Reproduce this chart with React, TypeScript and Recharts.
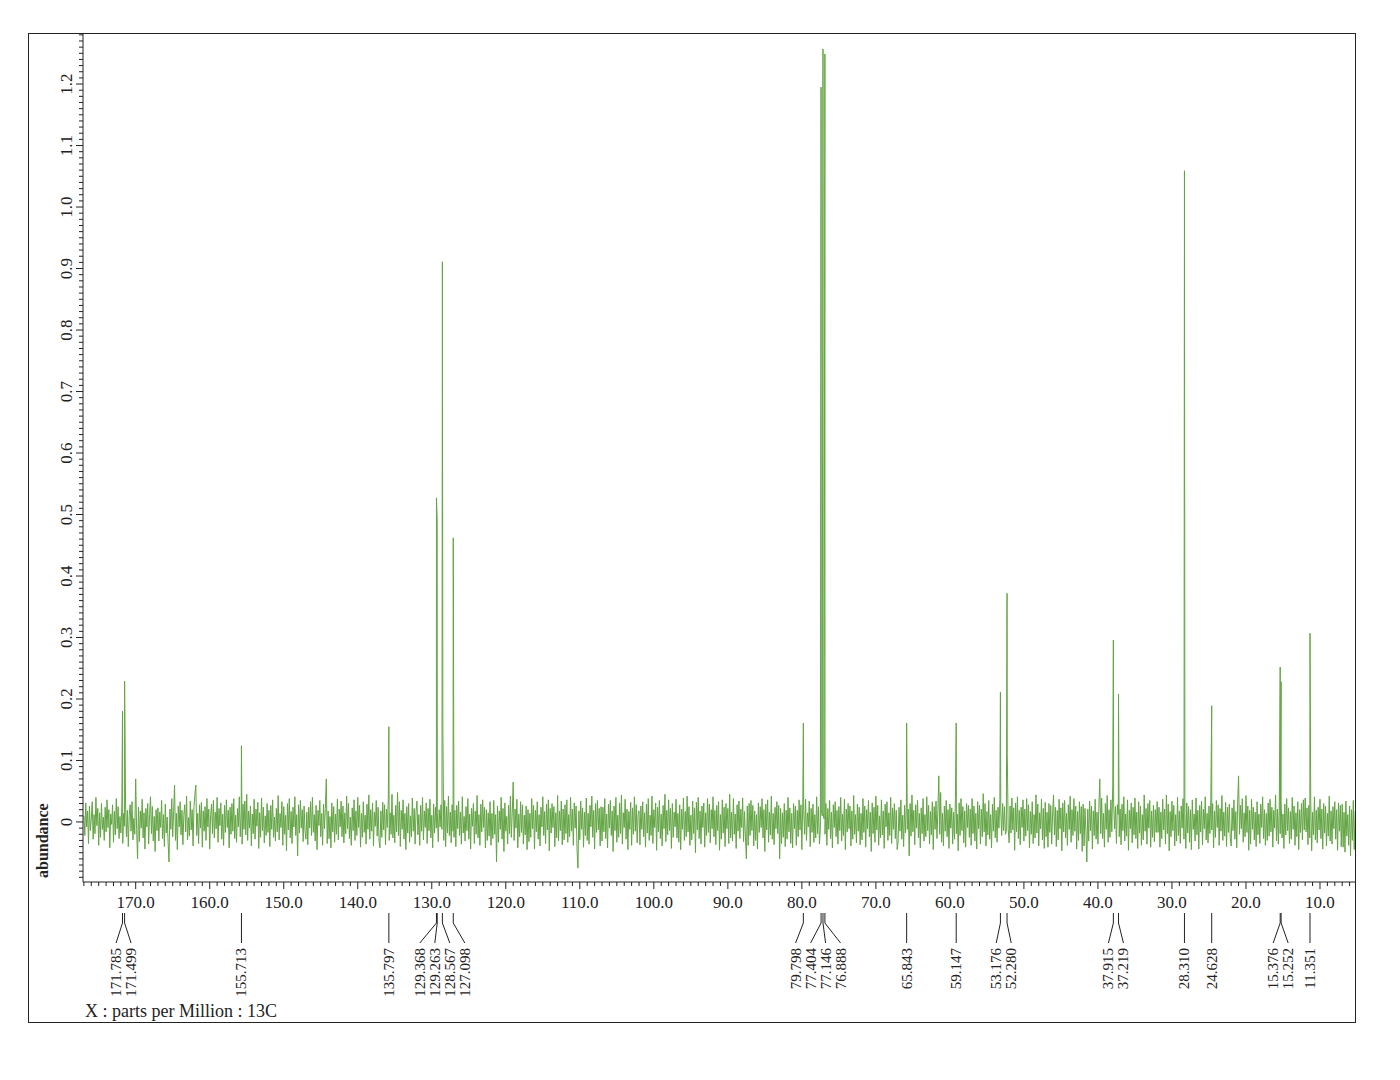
import React from 'react';
import { LineChart, Line, XAxis, YAxis } from 'recharts';

// 13C NMR spectrum, ppm axis runs right to left
const X_MIN = 5.27;
const X_MAX = 177.12;
const Y_MIN = -0.0976;
const Y_MAX = 1.283;

const X_LABELS = [170, 160, 150, 140, 130, 120, 110, 100, 90, 80, 70, 60, 50, 40, 30, 20, 10];
const Y_LABELS = [0, 0.1, 0.2, 0.3, 0.4, 0.5, 0.6, 0.7, 0.8, 0.9, 1.0, 1.1, 1.2];

// baseline noise in thousandths of abundance, one value every 0.125 ppm from 177.0 down (5 ppm per row)
const NOISE_START = 177.0;
const NOISE_STEP = 0.125;
const NOISE = [
    10, -22, 31, -8, 18, -35, 26, -14, 5, 33, -28, 12, -19, 40, -6, 22, -38, 15, -25, 30, -12, 8, -30, 24, -16, 36, -9, 20, -42, 13, -4, 28, -33, 17, -21, 38, -11, 25, -27, 9,
    -18, 26, -35, 14, -7, 31, -24, 19, -40, 11, 28, -15, 33, -29, 6, -20, 70, -12, -60, 24, -32, 18, -10, 37, -26, 15, -44, 22, -8, 30, -36, 12, 41, -19, 25, -31, 9, -48, 20, -14,
    23, -31, 16, -9, 35, -27, 12, -40, 29, -18, 8, -33, -65, 21, -12, 38, -24, 17, 60, -30, 14, -45, 26, -8, 33, -21, 19, -37, 11, 28, -16, 42, -29, 7, -23, 34, -13, 20, -39, 25,
    45, 60, -22, 14, -35, 28, -10, 32, -41, 18, -15, 25, -30, 38, -8, 21, -44, 12, 29, -19, 35, -26, 16, -11, 40, -33, 22, -6, 31, -28, 13, -38, 27, -17, 36, -9, 19, -42, 24, -20,
    30, -15, 38, -27, 11, -33, 22, -8, 41, -24, 16, -36, 29, -12, 34, -21, 45, -30, 18, -10, 26, -39, 13, -19, 37, -28, 21, -7, 32, -43, 15, -25, 39, -14, 24, -34, 10, -22, 30, -17,
    19, -40, 27, -12, 36, -25, 8, -31, 22, -16, 43, -29, 14, -9, 33, -38, 25, -20, 11, -47, 30, -13, 38, -26, 17, -35, 24, -8, 41, -22, 12, -55, 28, -18, 35, -10, 20, -32, 26, -15,
    -28, 16, -37, 24, -10, 33, -22, 40, -17, 12, -31, 27, -45, 19, -6, 35, -24, 14, -38, 29, -11, 22, 70, -35, 18, -27, 9, -42, 31, -16, 25, -33, 13, -20, 37, -29, 21, -8, 34, -24,
    26, -34, 15, -19, 42, -11, 30, -27, 8, -38, 23, -14, 36, -30, 18, -22, 40, -9, 27, -41, 14, -25, 33, -17, 11, -36, 29, -12, 44, -28, 20, -15, 31, -39, 16, -7, 35, -23, 24, -31,
    -42, 18, -25, 32, -13, 28, -37, 21, -9, 38, -30, 15, -20, 45, -26, 11, -34, 27, -16, 48, -22, 33, -40, 19, -12, 36, -28, 14, -45, 25, -18, 30, -33, 10, -24, 39, -15, 22, -36, 17,
    34, -21, 12, -38, 27, -15, 40, -29, 18, -9, 31, -35, 22, -14, 37, -26, 11, -42, 29, -18, 24, -10, 15, -32, 20, -8, 28, -12, 145, -30, 35, -40, 25, -18, 42, -22, 16, -34, 28, -15,
    -25, 19, -40, 27, -11, 34, -22, 16, -36, 41, -18, 9, -31, 25, -14, 38, -28, 13, -44, 22, -7, 30, -35, 18, -20, 43, -26, 12, -38, 29, -16, 36, -9, 24, -42, 20, -30, 15, -23, 33,
    -38, 14, -27, 35, -20, 12, -65, 26, -33, 18, -12, 40, -28, 22, -48, 31, -15, 9, -36, 27, -19, 42, -25, 16, 65, -30, 21, -10, 37, -42, 13, -24, 33, -17, 28, -36, 11, -21, 26, -45,
    20, -32, 14, -25, 38, -11, 27, -44, 19, -16, 33, -28, 12, -39, 24, -8, 41, -22, 17, -35, 29, -13, 36, -47, 22, -18, 30, -9, 25, -40, 15, -26, 43, -31, 18, -14, 34, -37, 21, -29,
    28, -19, 36, -33, 12, -24, 40, -15, 21, -38, 31, -10, 26, -45, -75, 18, -29, 34, -12, 23, -41, 16, -22, 39, -30, 14, -36, 27, -8, 42, -25, 19, -44, 30, -17, 35, -13, 22, -39, 25,
    -31, 24, -16, 38, -27, 13, -42, 29, -10, 35, -22, 18, -48, 26, -14, 40, -33, 11, -25, 31, -19, 44, -36, 15, -9, 37, -28, 21, -45, 17, -12, 32, -38, 23, -20, 41, -15, 28, -34, 12,
    18, -37, 26, -12, 33, -24, 15, -41, 29, -18, 38, -30, 11, -22, 42, -35, 20, -9, 31, -46, 24, -16, 35, -27, 13, -39, 27, -11, 45, -32, 19, -21, 36, -14, 22, -43, 30, -25, 16, -8,
    37, -26, 14, -33, 28, -45, 21, -12, 39, -30, 17, -24, 42, -16, 25, -38, 11, -29, 34, -19, 23, -50, 32, -13, 40, -27, 18, -36, 26, -9, 31, -41, 15, -22, 38, -17, 29, -34, 20, -11,
    41, -24, 19, -37, 27, -14, 33, -46, 12, -28, 36, -18, 24, -40, 30, -11, 22, -35, 45, -26, 16, -31, 38, -20, 13, -43, 28, -15, 34, -27, 21, -9, 39, -32, 17, -23, -60, 26, -38, 30,
    -22, 35, -14, 27, -39, 18, -30, 12, -44, 31, -17, 25, -9, 38, -26, 20, -48, 29, -13, 36, -33, 16, -21, 42, -28, 14, -37, 24, -11, 33, -19, 27, -60, 22, -35, 15, -25, 30, -40, 19,
    -28, 40, -16, 23, -35, 14, -42, 30, -11, 26, -38, 19, -24, 36, -13, 28, -45, 32, 18, -20, 37, -30, 15, -8, 34, -40, 22, -17, 29, -33, 12, -26, 41, -19, 25, -36, -10, 20, 10, 15,
    5, -20, 30, -38, 22, -12, 35, -27, 16, -42, 28, -9, 33, -24, 19, -36, 25, -14, 40, -31, 13, -22, 37, -45, 21, -16, 30, -11, 26, -39, 18, -28, 43, -20, 12, -34, 29, -15, 24, -37,
    14, -29, 38, -17, 26, -41, 20, -11, 35, -24, 16, -48, 31, -19, 24, -33, 42, -13, 27, -38, 10, -26, 36, -21, 18, -43, 29, -8, 33, -30, 15, -22, 40, -35, 23, -12, 30, -27, 19, -45,
    -33, 24, -15, 36, -28, 11, -40, 27, -18, 32, -12, 21, -55, 30, -23, 44, -16, 19, -37, 28, -10, 35, -26, 14, -42, 23, -19, 38, -31, 12, -24, 41, -14, 27, -36, 17, -21, 33, -45, 25,
    -12, 34, -27, 18, 75, -20, 48, -33, 14, -39, 26, -15, 35, -24, 20, -43, 29, -10, 23, -36, 16, -28, 40, -19, 13, -47, 31, -22, 38, -14, 25, -34, 18, -41, 30, -9, 27, -25, 21, -38,
    38, -19, 26, -31, 14, -44, 33, -11, 27, -36, 21, -24, 46, -16, 30, -39, 17, -21, 35, -28, 12, -42, 29, -15, 40, -26, 19, -33, 24, -10, 37, 18, -22, 30, -14, 25, -20, -15, 110, -12,
    -34, 26, -18, 39, -13, 23, -46, 31, -16, 41, -27, 19, -37, 24, -9, 36, -31, 21, -23, 38, -14, 28, -42, 17, -20, 33, -35, 12, -26, 44, -18, 29, -39, 15, -11, 37, -29, 22, -43, 32,
    -24, 16, -41, 30, -17, 27, -36, 13, 44, -21, 24, -40, 19, -29, 37, -11, 23, -47, 31, -16, 35, -26, 14, -38, 28, -12, 42, -33, 20, -22, 38, -15, 26, -44, 17, -30, 33, -19, 25, -48,
    29, -39, 22, -15, -65, 21, -31, 34, -14, 26, -44, 18, -22, 37, -28, 16, -36, 25, 70, -19, 39, -27, 14, -41, 30, -12, 43, -33, 20, -25, 36, -16, 60, 30, -11, 25, -35, 28, 12, -24,
    21, -37, 29, -14, 41, -31, 13, -23, 36, -46, 19, -11, 31, -34, 24, -21, 39, -27, 16, -43, 33, -18, 26, -38, 12, -29, 44, -15, 22, -36, 30, -10, 35, -41, 18, -25, 27, -32, 20, -17,
    33, -17, 24, -41, 16, -27, 37, -13, 21, -36, 44, -19, 29, -47, 17, -24, 34, -14, 27, -39, 12, -31, 40, -22, 18, -35, 26, -10, 38, -28, 15, -43, 31, -18, 25, -33, 20, -45, 36, -12,
    13, -31, 39, -21, 19, -44, 27, -16, 34, -37, 21, -11, 41, -29, 14, -34, 26, -19, 37, -13, 30, -42, 18, -25, 35, -9, 28, -38, 22, -15, 43, -30, 16, -23, 32, -40, 24, -17, 29, -26,
    -39, 23, -14, 36, -28, 17, -42, 31, 75, -20, 27, -11, 38, -33, 15, -24, 43, -17, 26, -46, 19, -36, 37, -12, 24, -29, 16, -40, 33, -21, 13, -35, 29, -9, 41, -27, 20, -38, 14, -30,
    31, -23, 37, -16, 24, -41, 19, -10, 44, -31, 21, -36, 27, -19, 34, -26, 13, -43, 29, -21, 38, -14, 23, -35, 17, -28, 40, -12, 26, -38, 15, -24, 33, -45, 20, -17, 30, -29, 36, -13,
    39, -16, 23, -37, 27, -26, 34, -47, 16, -21, 41, -29, 19, -34, 24, -13, 37, -27, 21, -44, 30, -18, 26, -39, 14, -23, 42, -31, 18, -36, 25, -11, 33, -28, 20, -46, 31, -15, 27, -40,
    29, -41, 16, -49, 34, -23, 12, -38, 26, -55, 20, -30, 35, -45, 18,
];

const PEAK_PPM = [
    171.785, 171.499, 155.713, 135.797, 129.368, 129.263, 128.567, 127.098,
    79.798, 77.404, 77.146, 76.888, 65.843, 59.147, 53.176, 52.280,
    37.915, 37.219, 28.310, 24.628, 15.376, 15.252, 11.351,
];
const PEAK_HEIGHT = [
    0.18, 0.229, 0.124, 0.155, 0.527, 0.49, 0.911, 0.462,
    0.161, 1.195, 1.257, 1.249, 0.161, 0.161, 0.211, 0.372,
    0.296, 0.208, 1.059, 0.189, 0.252, 0.228, 0.307,
];

const spectrum = [
    ...NOISE.map((v, i) => ({ ppm: NOISE_START - i * NOISE_STEP, abundance: v / 1000 })),
    ...PEAK_PPM.map((p, i) => ({ ppm: p, abundance: PEAK_HEIGHT[i] })),
].sort((a, b) => b.ppm - a.ppm);

const FONT = '"Liberation Serif", "Times New Roman", serif';
const INK = '#222';
const GREEN = '#62a443';

// plot box on the page
const PLOT_LEFT = 83;
const PLOT_RIGHT = 1355;
const LABEL_GAP = 15;

const xMinor: number[] = [];
for (let v = 6; v <= 177; v++) xMinor.push(v);
const yMinor: number[] = [];
for (let k = -9; k <= 128; k++) yMinor.push(k / 100);

// spread the peak labels so neighbours don't overlap
const spreadLabels = (px: number[], gap: number) => {
    let groups = px.map(p => ({ items: [p], center: p }));
    let merged = true;
    while (merged) {
        merged = false;
        for (let i = 0; i < groups.length - 1; i++) {
            const a = groups[i], b = groups[i + 1];
            const aEnd = a.center + (a.items.length - 1) * gap / 2;
            const bStart = b.center - (b.items.length - 1) * gap / 2;
            if (bStart - aEnd < gap) {
                const items = [...a.items, ...b.items];
                groups.splice(i, 2, { items, center: items.reduce((s, v) => s + v, 0) / items.length });
                merged = true;
                break;
            }
        }
    }
    return groups.flatMap(g => g.items.map((_, k) => g.center + (k - (g.items.length - 1) / 2) * gap));
};

const pxPerPpm = (PLOT_RIGHT - PLOT_LEFT) / (X_MAX - X_MIN);
const peakPx = PEAK_PPM.map(p => PLOT_LEFT + (X_MAX - p) * pxPerPpm);
const labelPx = spreadLabels(peakPx, LABEL_GAP);
const LABEL_SHIFT = labelPx.map((l, i) => l - peakPx[i]);

const XTick = (props: any) => {
    const { x, y, payload } = props;
    const v = payload.value;
    const major = X_LABELS.includes(v);
    return (
        <g>
            <line x1={x} y1={y} x2={x} y2={y + (major ? 7 : 4)} stroke={INK} />
            {major && (
                <text x={x} y={y + 26} textAnchor="middle" fontSize={17} fontFamily={FONT} fill={INK}>
                    {v.toFixed(1)}
                </text>
            )}
        </g>
    );
};

const PeakTick = (props: any) => {
    const { x, y, payload } = props;
    const i = PEAK_PPM.indexOf(payload.value);
    if (i < 0) return <g />;
    const lx = x + LABEL_SHIFT[i];
    const ty = y + 36;
    return (
        <g>
            <polyline points={`${x},${y + 1} ${x},${y + 11} ${lx},${y + 31}`} fill="none" stroke={INK} />
            <text
                x={lx} y={ty}
                transform={`rotate(-90 ${lx} ${ty})`}
                textAnchor="end" dominantBaseline="central"
                fontSize={15} fontFamily={FONT} fill={INK}
            >
                {PEAK_PPM[i].toFixed(3)}
            </text>
        </g>
    );
};

const YTick = (props: any) => {
    const { x, y, payload } = props;
    const k = Math.round(payload.value * 100);
    const label = Y_LABELS.find(v => Math.round(v * 100) === k);
    const major = label !== undefined;
    const lx = x - 16;
    return (
        <g>
            <line x1={x - (major ? 7 : 4)} y1={y} x2={x} y2={y} stroke={INK} />
            {major && (
                <text
                    x={lx} y={y}
                    transform={`rotate(-90 ${lx} ${y})`}
                    textAnchor="middle" dominantBaseline="central"
                    fontSize={17} fontFamily={FONT} fill={INK}
                >
                    {label === 0 ? '0' : label!.toFixed(1)}
                </text>
            )}
        </g>
    );
};

export default function App() {
    return (
        <div style={{ position: 'absolute', left: 0, top: 0, width: 1400, height: 1080, background: '#fff' }}>
            <div style={{
                position: 'absolute', left: 28, top: 33, width: 1328, height: 990,
                border: `1px solid ${INK}`, boxSizing: 'border-box',
            }} />
            <div style={{ position: 'absolute', left: 0, top: 0 }}>
                <LineChart
                    width={1400}
                    height={1080}
                    data={spectrum}
                    margin={{ top: 33, right: 45, left: 28, bottom: 58 }}
                >
                    <XAxis
                        dataKey="ppm"
                        type="number"
                        domain={[X_MIN, X_MAX]}
                        reversed
                        allowDataOverflow
                        ticks={xMinor}
                        interval={0}
                        tick={<XTick />}
                        tickLine={false}
                        tickSize={0}
                        tickMargin={0}
                        axisLine={{ stroke: INK }}
                        height={30}
                    />
                    <XAxis
                        xAxisId="peaks"
                        dataKey="ppm"
                        type="number"
                        domain={[X_MIN, X_MAX]}
                        reversed
                        allowDataOverflow
                        ticks={PEAK_PPM}
                        interval={0}
                        tick={<PeakTick />}
                        tickLine={false}
                        tickSize={0}
                        tickMargin={0}
                        axisLine={false}
                        height={110}
                    />
                    <YAxis
                        type="number"
                        domain={[Y_MIN, Y_MAX]}
                        allowDataOverflow
                        ticks={yMinor}
                        interval={0}
                        tick={<YTick />}
                        tickLine={false}
                        tickSize={0}
                        tickMargin={0}
                        axisLine={{ stroke: INK }}
                        width={55}
                    />
                    <Line
                        type="linear"
                        dataKey="abundance"
                        stroke={GREEN}
                        strokeWidth={1}
                        dot={false}
                        activeDot={false}
                        isAnimationActive={false}
                    />
                </LineChart>
            </div>
            <svg width={1400} height={1080} style={{ position: 'absolute', left: 0, top: 0, pointerEvents: 'none' }}>
                <text
                    x={48} y={878}
                    transform="rotate(-90 48 878)"
                    textAnchor="start"
                    fontSize={16} fontWeight="bold" fontFamily={FONT} fill={INK}
                >
                    abundance
                </text>
                <text x={85} y={1017} fontSize={18} fontFamily={FONT} fill={INK}>
                    X : parts per Million : 13C
                </text>
            </svg>
        </div>
    );
}
